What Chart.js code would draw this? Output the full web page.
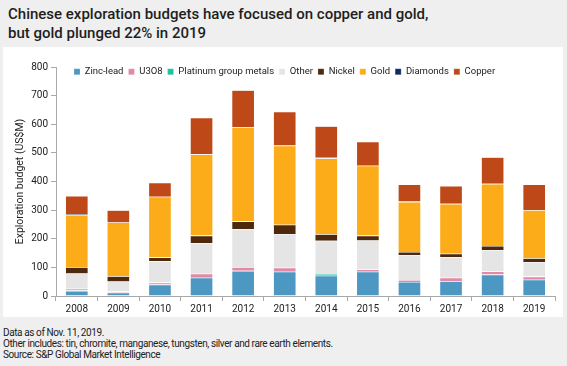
<!DOCTYPE html>
<html>
<head>
<meta charset="utf-8">
<script src="https://cdn.jsdelivr.net/npm/chart.js"></script>
<style>
  body { margin: 0; background: #efefef; width: 567px; height: 366px; overflow: hidden; font-family: Roboto, sans-serif; }
  .title { position: absolute; left: 8px; top: 5px; font-size: 15px; font-weight: 500; line-height: 19px; color: #1e1e1e; }
  .panel { position: absolute; left: 3px; top: 47px; width: 560px; height: 270px; background: #fff; }
  .notes { position: absolute; left: 3px; top: 327px; font-size: 10px; line-height: 11px; color: #222; letter-spacing: -0.4px; }
</style>
</head>
<body>
<div class="title">Chinese exploration budgets have focused on copper and gold,<br>but gold plunged 22% in 2019</div>
<div class="panel"><canvas id="myChart" width="560" height="270"></canvas></div>
<div class="notes">Data as of Nov. 11, 2019.<br>Other includes: tin, chromite, manganese, tungsten, silver and rare earth elements.<br>Source: S&amp;P Global Market Intelligence</div>
<script>
var years = ['2008','2009','2010','2011','2012','2013','2014','2015','2016','2017','2018','2019'];
var zincLead = [18, 12, 40, 64, 88, 85, 71, 85, 49, 52, 75, 57];
var u3o8 =     [2, 4, 7, 14, 13, 14, 0, 8, 7, 12, 11, 11];
var pgm =      [5, 0, 0, 0, 0, 0, 6, 0, 0, 0, 0, 0];
var other =    [54, 35, 75, 106, 132, 118, 116, 101, 86, 71, 75, 51];
var nickel =   [22, 18, 13, 27, 28, 32, 23, 17, 12, 13, 14, 13];
var gold =     [182, 188, 212, 284, 329, 276, 265, 244, 175, 174, 217, 168];
var diamonds = [3, 0, 0, 0, 0, 2, 2, 3, 3, 0, 0, 0];
var copper =   [64, 43, 49, 128, 129, 117, 110, 81, 58, 63, 93, 90];

var font = { family: 'Roboto, sans-serif', size: 10 };

function ds(label, data, color) {
  return {
    label: label,
    data: data,
    backgroundColor: color,
    borderColor: 'rgba(255,255,255,0.35)',
    borderWidth: 0.6,
    barPercentage: 0.55,
    categoryPercentage: 1
  };
}

// legend sits inside the plot, so keep it from pushing the plot down
var legendInside = {
  id: 'legendInside',
  beforeLayout: function(chart) {
    var lg = chart.legend;
    if (lg && !lg._patched) {
      var fit = lg.fit;
      lg.fit = function() { fit.call(this); this.height = 8; };
      lg._patched = true;
    }
  },
  afterLayout: function(chart) {
    var lg = chart.legend;
    lg.left = 66;
    lg.top = 15;
    lg.height = 26;
    lg.bottom = 41;
  }
};

new Chart('myChart', {
  type: 'bar',
  data: {
    labels: years,
    datasets: [
      ds('Zinc-lead', zincLead, '#4d97c3'),
      ds('U3O8', u3o8, '#e08aa7'),
      ds('Platinum group metals', pgm, '#22bfa0'),
      ds('Other', other, '#e5e5e5'),
      ds('Nickel', nickel, '#4f290c'),
      ds('Gold', gold, '#fdac19'),
      ds('Diamonds', diamonds, '#0c2b5e'),
      ds('Copper', copper, '#bf4819')
    ]
  },
  plugins: [legendInside],
  options: {
    responsive: false,
    animation: false,
    layout: { padding: { top: 12, right: 8, left: 11, bottom: 0 } },
    plugins: {
      tooltip: { enabled: false },
      legend: {
        position: 'top',
        align: 'start',
        labels: {
          boxWidth: 6,
          boxHeight: 6,
          padding: 5,
          color: '#222',
          font: { family: 'Roboto, sans-serif', size: 9.5 }
        }
      }
    },
    scales: {
      x: {
        stacked: true,
        grid: { drawOnChartArea: false, tickLength: 5, color: '#aaa', offset: true },
        border: { color: '#aaa' },
        ticks: { color: '#222', font: font, padding: 2, maxRotation: 0 },
        afterFit: function(s) { s.height = 21; }
      },
      y: {
        stacked: true,
        min: 0,
        max: 800,
        grid: { drawOnChartArea: false, tickLength: 5, color: '#aaa' },
        border: { color: '#aaa' },
        ticks: { stepSize: 100, color: '#222', font: font, padding: 3 },
        title: { display: true, text: 'Exploration budget (US$M)', color: '#222', font: { family: 'Roboto, sans-serif', size: 10.5 }, padding: 0 },
        afterFit: function(s) { s.width = 42; }
      }
    }
  }
});
</script>
</body>
</html>
